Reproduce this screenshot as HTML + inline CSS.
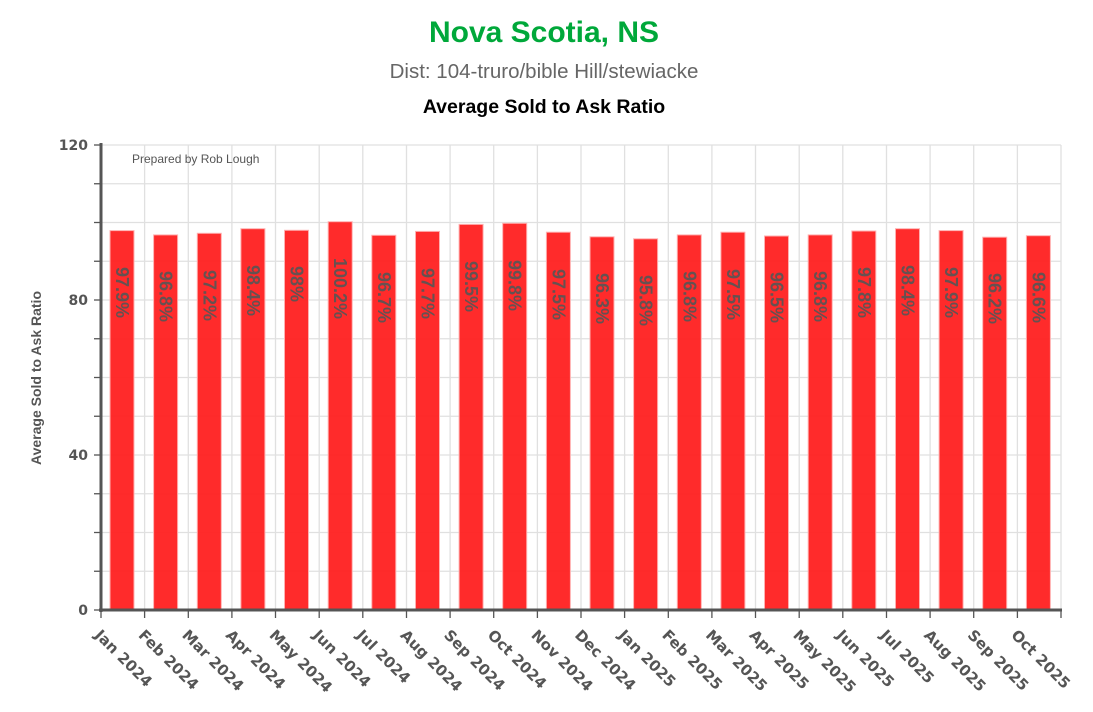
<!DOCTYPE html>
<html><head><meta charset="utf-8"><style>
html,body{margin:0;padding:0;background:#fff;}
svg{display:block;}
.xl{font-family:"DejaVu Sans",sans-serif;font-weight:bold;font-size:15px;fill:#555;}
.yl{font-family:"DejaVu Sans",sans-serif;font-weight:bold;font-size:14px;fill:#555;}
.bl{font-family:"Liberation Sans",sans-serif;font-weight:bold;font-size:18px;fill:#555;fill-opacity:0.9;}
</style></head><body>
<svg width="1093" height="712" viewBox="0 0 1093 712" xmlns="http://www.w3.org/2000/svg">
<text x="544" y="42" text-anchor="middle" font-family="Liberation Sans,sans-serif" font-weight="bold" font-size="30" fill="#00a83a">Nova Scotia, NS</text>
<text x="544" y="78" text-anchor="middle" font-family="Liberation Sans,sans-serif" font-size="20.5" fill="#666">Dist: 104-truro/bible Hill/stewiacke</text>
<text x="544" y="113" text-anchor="middle" font-family="Liberation Sans,sans-serif" font-weight="bold" font-size="19.5" fill="#000">Average Sold to Ask Ratio</text>
<g stroke="#e0e0e0" stroke-width="1.3">
<line x1="101" y1="145" x2="1061" y2="145"/><line x1="101" y1="183.75" x2="1061" y2="183.75"/><line x1="101" y1="222.5" x2="1061" y2="222.5"/><line x1="101" y1="261.25" x2="1061" y2="261.25"/><line x1="101" y1="300" x2="1061" y2="300"/><line x1="101" y1="338.75" x2="1061" y2="338.75"/><line x1="101" y1="377.5" x2="1061" y2="377.5"/><line x1="101" y1="416.25" x2="1061" y2="416.25"/><line x1="101" y1="455" x2="1061" y2="455"/><line x1="101" y1="493.75" x2="1061" y2="493.75"/><line x1="101" y1="532.5" x2="1061" y2="532.5"/><line x1="101" y1="571.25" x2="1061" y2="571.25"/>
<line x1="144.6" y1="145" x2="144.6" y2="610"/><line x1="188.3" y1="145" x2="188.3" y2="610"/><line x1="231.9" y1="145" x2="231.9" y2="610"/><line x1="275.5" y1="145" x2="275.5" y2="610"/><line x1="319.2" y1="145" x2="319.2" y2="610"/><line x1="362.8" y1="145" x2="362.8" y2="610"/><line x1="406.5" y1="145" x2="406.5" y2="610"/><line x1="450.1" y1="145" x2="450.1" y2="610"/><line x1="493.7" y1="145" x2="493.7" y2="610"/><line x1="537.4" y1="145" x2="537.4" y2="610"/><line x1="581" y1="145" x2="581" y2="610"/><line x1="624.6" y1="145" x2="624.6" y2="610"/><line x1="668.3" y1="145" x2="668.3" y2="610"/><line x1="711.9" y1="145" x2="711.9" y2="610"/><line x1="755.5" y1="145" x2="755.5" y2="610"/><line x1="799.2" y1="145" x2="799.2" y2="610"/><line x1="842.8" y1="145" x2="842.8" y2="610"/><line x1="886.5" y1="145" x2="886.5" y2="610"/><line x1="930.1" y1="145" x2="930.1" y2="610"/><line x1="973.7" y1="145" x2="973.7" y2="610"/><line x1="1017.4" y1="145" x2="1017.4" y2="610"/><line x1="1061" y1="145" x2="1061" y2="610"/>
</g>
<text x="132" y="163" font-family="Liberation Sans,sans-serif" font-size="12" fill="#555">Prepared by Rob Lough</text>
<g fill="#ff2020" fill-opacity="0.95" stroke="#ffb0b0" stroke-width="1">
<rect x="110" y="230.6" width="24" height="379.4"/>
<rect x="153.6" y="234.9" width="24" height="375.1"/>
<rect x="197.3" y="233.3" width="24" height="376.7"/>
<rect x="240.9" y="228.7" width="24" height="381.3"/>
<rect x="284.5" y="230.3" width="24" height="379.7"/>
<rect x="328.2" y="221.7" width="24" height="388.3"/>
<rect x="371.8" y="235.3" width="24" height="374.7"/>
<rect x="415.5" y="231.4" width="24" height="378.6"/>
<rect x="459.1" y="224.4" width="24" height="385.6"/>
<rect x="502.7" y="223.3" width="24" height="386.7"/>
<rect x="546.4" y="232.2" width="24" height="377.8"/>
<rect x="590" y="236.8" width="24" height="373.2"/>
<rect x="633.6" y="238.8" width="24" height="371.2"/>
<rect x="677.3" y="234.9" width="24" height="375.1"/>
<rect x="720.9" y="232.2" width="24" height="377.8"/>
<rect x="764.5" y="236" width="24" height="374"/>
<rect x="808.2" y="234.9" width="24" height="375.1"/>
<rect x="851.8" y="231" width="24" height="379"/>
<rect x="895.5" y="228.7" width="24" height="381.3"/>
<rect x="939.1" y="230.6" width="24" height="379.4"/>
<rect x="982.7" y="237.2" width="24" height="372.8"/>
<rect x="1026.4" y="235.7" width="24" height="374.3"/>
</g>
<g class="bl" dominant-baseline="central">
<text transform="translate(122,267) rotate(90)">97.9%</text>
<text transform="translate(165.6,271) rotate(90)">96.8%</text>
<text transform="translate(209.3,270) rotate(90)">97.2%</text>
<text transform="translate(252.9,265) rotate(90)">98.4%</text>
<text transform="translate(296.5,266) rotate(90)">98%</text>
<text transform="translate(340.2,258) rotate(90)">100.2%</text>
<text transform="translate(383.8,272) rotate(90)">96.7%</text>
<text transform="translate(427.5,268) rotate(90)">97.7%</text>
<text transform="translate(471.1,261) rotate(90)">99.5%</text>
<text transform="translate(514.7,260) rotate(90)">99.8%</text>
<text transform="translate(558.4,269) rotate(90)">97.5%</text>
<text transform="translate(602,273) rotate(90)">96.3%</text>
<text transform="translate(645.6,275) rotate(90)">95.8%</text>
<text transform="translate(689.3,271) rotate(90)">96.8%</text>
<text transform="translate(732.9,269) rotate(90)">97.5%</text>
<text transform="translate(776.5,272) rotate(90)">96.5%</text>
<text transform="translate(820.2,271) rotate(90)">96.8%</text>
<text transform="translate(863.8,267) rotate(90)">97.8%</text>
<text transform="translate(907.5,265) rotate(90)">98.4%</text>
<text transform="translate(951.1,267) rotate(90)">97.9%</text>
<text transform="translate(994.7,273) rotate(90)">96.2%</text>
<text transform="translate(1038.4,272) rotate(90)">96.6%</text>
</g>
<g stroke="#555">
<line x1="101" y1="143" x2="101" y2="612" stroke-width="3"/>
<line x1="99" y1="610" x2="1062" y2="610" stroke-width="3"/>
<g stroke-width="1.3">
<line x1="94" y1="145" x2="101" y2="145"/><line x1="94" y1="183.75" x2="101" y2="183.75"/><line x1="94" y1="222.5" x2="101" y2="222.5"/><line x1="94" y1="261.25" x2="101" y2="261.25"/><line x1="94" y1="300" x2="101" y2="300"/><line x1="94" y1="338.75" x2="101" y2="338.75"/><line x1="94" y1="377.5" x2="101" y2="377.5"/><line x1="94" y1="416.25" x2="101" y2="416.25"/><line x1="94" y1="455" x2="101" y2="455"/><line x1="94" y1="493.75" x2="101" y2="493.75"/><line x1="94" y1="532.5" x2="101" y2="532.5"/><line x1="94" y1="571.25" x2="101" y2="571.25"/><line x1="94" y1="610" x2="101" y2="610"/>
<line x1="101" y1="610" x2="101" y2="618"/><line x1="144.6" y1="610" x2="144.6" y2="618"/><line x1="188.3" y1="610" x2="188.3" y2="618"/><line x1="231.9" y1="610" x2="231.9" y2="618"/><line x1="275.5" y1="610" x2="275.5" y2="618"/><line x1="319.2" y1="610" x2="319.2" y2="618"/><line x1="362.8" y1="610" x2="362.8" y2="618"/><line x1="406.5" y1="610" x2="406.5" y2="618"/><line x1="450.1" y1="610" x2="450.1" y2="618"/><line x1="493.7" y1="610" x2="493.7" y2="618"/><line x1="537.4" y1="610" x2="537.4" y2="618"/><line x1="581" y1="610" x2="581" y2="618"/><line x1="624.6" y1="610" x2="624.6" y2="618"/><line x1="668.3" y1="610" x2="668.3" y2="618"/><line x1="711.9" y1="610" x2="711.9" y2="618"/><line x1="755.5" y1="610" x2="755.5" y2="618"/><line x1="799.2" y1="610" x2="799.2" y2="618"/><line x1="842.8" y1="610" x2="842.8" y2="618"/><line x1="886.5" y1="610" x2="886.5" y2="618"/><line x1="930.1" y1="610" x2="930.1" y2="618"/><line x1="973.7" y1="610" x2="973.7" y2="618"/><line x1="1017.4" y1="610" x2="1017.4" y2="618"/><line x1="1061" y1="610" x2="1061" y2="618"/>
</g></g>
<g class="yl" text-anchor="end">
<text x="88" y="150">120</text><text x="88" y="305">80</text><text x="88" y="460">40</text><text x="88" y="615">0</text>
</g>
<text transform="translate(41,378) rotate(-90)" text-anchor="middle" font-family="Liberation Sans,sans-serif" font-weight="bold" font-size="14" fill="#555">Average Sold to Ask Ratio</text>
<g class="xl">
<text transform="translate(94,636) rotate(45)">Jan 2024</text>
<text transform="translate(137.6,636) rotate(45)">Feb 2024</text>
<text transform="translate(181.3,636) rotate(45)">Mar 2024</text>
<text transform="translate(224.9,636) rotate(45)">Apr 2024</text>
<text transform="translate(268.5,636) rotate(45)">May 2024</text>
<text transform="translate(312.2,636) rotate(45)">Jun 2024</text>
<text transform="translate(355.8,636) rotate(45)">Jul 2024</text>
<text transform="translate(399.5,636) rotate(45)">Aug 2024</text>
<text transform="translate(443.1,636) rotate(45)">Sep 2024</text>
<text transform="translate(486.7,636) rotate(45)">Oct 2024</text>
<text transform="translate(530.4,636) rotate(45)">Nov 2024</text>
<text transform="translate(574,636) rotate(45)">Dec 2024</text>
<text transform="translate(617.6,636) rotate(45)">Jan 2025</text>
<text transform="translate(661.3,636) rotate(45)">Feb 2025</text>
<text transform="translate(704.9,636) rotate(45)">Mar 2025</text>
<text transform="translate(748.5,636) rotate(45)">Apr 2025</text>
<text transform="translate(792.2,636) rotate(45)">May 2025</text>
<text transform="translate(835.8,636) rotate(45)">Jun 2025</text>
<text transform="translate(879.5,636) rotate(45)">Jul 2025</text>
<text transform="translate(923.1,636) rotate(45)">Aug 2025</text>
<text transform="translate(966.7,636) rotate(45)">Sep 2025</text>
<text transform="translate(1010.4,636) rotate(45)">Oct 2025</text>
</g>
</svg>
</body></html>
